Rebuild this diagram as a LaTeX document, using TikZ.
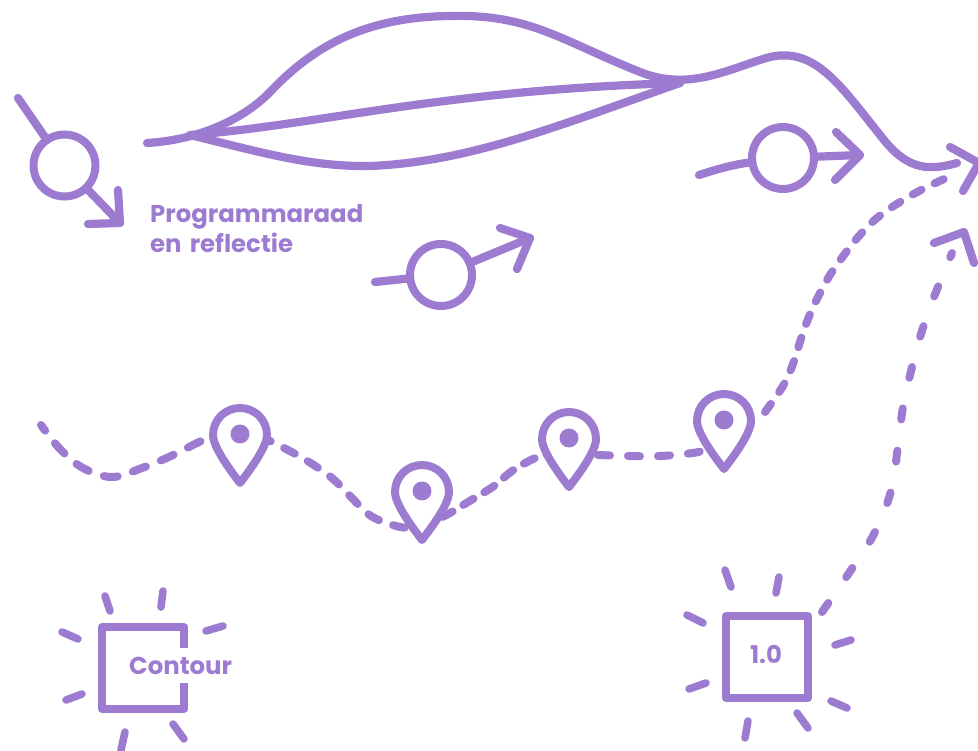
\documentclass[tikz,border=0pt]{standalone}
\usepackage{fontspec}
\setmainfont{Poppins}
\definecolor{lil}{HTML}{9D7BD1}
\tikzset{
 x=1pt,y=-1pt,
 ln/.style={draw=lil,line width=8.2pt,line cap=round,line join=round},
 dsh/.style={ln,line width=8pt},
 ray/.style={ln,line width=7.6pt},
 circ/.style={circle,draw=lil,line width=8pt,minimum size=62pt,inner sep=0pt,outer sep=0pt},
 sq/.style={draw=lil,line width=8pt,line join=round},
 lab/.style={text=lil,font=\bfseries\fontsize{24.4}{30}\selectfont,inner sep=0pt,anchor=base west},
 pics/pin/.style={code={
   \draw[ln,line width=8pt,fill=white] (0,48) .. controls (-10,35) and (-27,12) .. (-27,0) .. controls (-27,-15) and (-15,-27) .. (0,-27) .. controls (15,-27) and (27,-15) .. (27,0) .. controls (27,12) and (10,35) .. (0,48) -- cycle;
   \fill[lil] (0,-1) circle (9.5);
 }}
}
\begin{document}
\begin{tikzpicture}
\useasboundingbox (0,0) rectangle (978,751);
% main river
\draw[ln] (147,143) .. controls (200,140) and (245,118) .. (270,92) .. controls (310,50) and (360,17) .. (450,16) .. controls (530,14) and (560,40) .. (640,72) .. controls (690,92) and (730,68) .. (770,57) .. controls (815,47) and (840,85) .. (880,135) .. controls (905,168) and (925,172) .. (957,163);
\draw[ln] (190,135) .. controls (320,125) and (440,90) .. (680,83);
\draw[ln] (190,135) .. controls (260,152) and (310,167) .. (370,166) .. controls (470,162) and (560,125) .. (680,83);
% person 1
\node[circ] (c1) at (64.5,165.5) {};
\coordinate (c1a) at (18,98);
\coordinate (c1b) at (120,223);
\draw[ln] (c1a) -- (c1);
\draw[ln] (c1) -- (c1b);
\draw[ln] (118,190) -- (c1b) -- (88,224);
% person 2
\node[circ] (c2) at (441,275) {};
\coordinate (c2a) at (375,282);
\coordinate (c2b) at (530,238);
\draw[ln] (c2a) -- (c2);
\draw[ln] (c2) -- (c2b);
\draw[ln] (500,228) -- (c2b) -- (517,269);
% person 3
\node[circ] (c3) at (783,158) {};
\coordinate (c3a) at (699,175);
\coordinate (c3b) at (860,155);
\draw[ln] (c3a) .. controls (715,170) and (730,165) .. (c3);
\draw[ln] (c3) -- (c3b);
\draw[ln] (836,132) -- (c3b) -- (835,180);
% big arrow heads
\draw[ln] (950,147) -- (979,163) -- (963,191);
\draw[ln] (934,243) -- (964,232) -- (974,263);
% text
\node[lab] (t1) at (150,223) {Programmaraad};
\node[lab] (t2) at (150,253) {en\hspace{0.12em} reflectie};
% dashed routes
\draw[dsh,dash pattern=on 14pt off 16pt,dash phase=7pt] plot[smooth,tension=0.6] coordinates {(41,425) (60,449) (83,468) (112,477) (142,468) (171,456) (195,444) (212,436)};
\draw[dsh,dash pattern=on 12pt off 15pt] plot[smooth,tension=0.6] coordinates {(260,436) (286,449) (309,462) (332,478) (351,497) (371,516) (396,526) (410,528)};
\draw[dsh,dash pattern=on 12pt off 12.5pt] plot[smooth,tension=0.6] coordinates {(442,517) (450,513) (473,499) (494,486) (512,471) (533,459) (548,454)};
\draw[dsh,dash pattern=on 12pt off 18pt] plot[smooth,tension=0.6] coordinates {(598,455) (629,456) (661,456) (693,453) (705,450)};
\draw[dsh,dash pattern=on 10pt off 14.5pt] plot[smooth,tension=0.6] coordinates {(765,412) (783,386) (793,364) (800,342) (808,319) (818,297) (830,275) (844,255) (859,236) (877,218) (900,202) (925,188) (953,175)};
\draw[dsh,dash pattern=on 11pt off 31.5pt] plot[smooth,tension=0.6] coordinates {(822,612) (849,573) (874,534) (891,491) (898,446) (903,407) (911,371) (921,334) (934,297) (952,253)};
% pins
\pic at (240,435) {pin};
\pic at (422,492) {pin};
\pic at (569,439) {pin};
\pic at (724,421) {pin};
% boxes
\draw[sq] (102,627) rectangle (184,709);
\node[lab,fill=white,minimum height=35pt,anchor=west] (t3) at (129,665.5) {Contour};
\draw[sq] (726,616) rectangle (808,698);
\node[lab,anchor=center] (t4) at (766,655) {1.0};
% rays contour
\foreach \a/\b/\c/\d in {105/596/110/611,163/591/161/607,206/631/223/626,62/632/78/639,66/700/82/694,173/724/184/739,125/732/121/750}
  \draw[ray] (\a,\b) -- (\c,\d);
% rays 1.0
\foreach \a/\b/\c/\d in {725/570/731/587,779/577/776/593,835/645/851/640,687/615/703/623,689/689/706/683,748/721/745/738,797/713/808/728,831/701/847/708}
  \draw[ray] (\a,\b) -- (\c,\d);
\end{tikzpicture}
\end{document}
